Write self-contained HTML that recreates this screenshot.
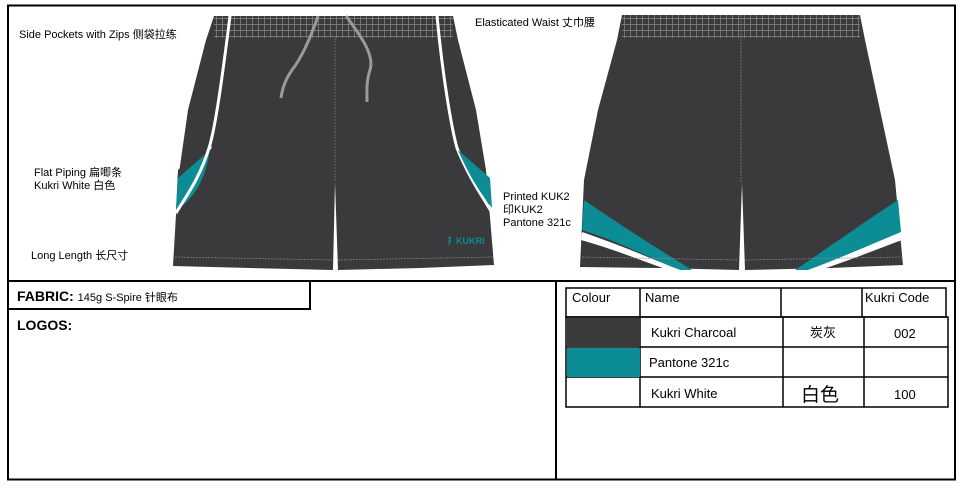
<!DOCTYPE html>
<html><head><meta charset="utf-8"><style>
body{margin:0;background:#fff;}
svg text{font-family:"Liberation Sans","Noto Sans CJK SC",sans-serif;}
</style></head><body>
<svg width="964" height="488" viewBox="0 0 964 488" xmlns="http://www.w3.org/2000/svg">
<defs>
<pattern id="grid" width="6" height="6" patternUnits="userSpaceOnUse">
<rect width="6" height="6" fill="#3a393b"/>
<path d="M0 0.5H6M0.5 0V6" stroke="#8a8a8c" stroke-width="0.7"/>
</pattern>
</defs>
<rect x="8" y="5.5" width="947" height="474" fill="none" stroke="#000" stroke-width="2"/>
<line x1="8" y1="281" x2="955" y2="281" stroke="#000" stroke-width="2"/>
<line x1="556" y1="281" x2="556" y2="479" stroke="#000" stroke-width="2"/>
<rect x="8" y="281" width="302" height="28" fill="none" stroke="#000" stroke-width="2"/>

<!-- front shorts -->
<path d="M214 16 L453 16 L458 40 L476 110 L486 170 L494 265 L420 268 L338 270 L335 182 L333 270 L250 268 L173 266 L178 180 L188 110 L206 40 Z" fill="#3a393b"/>
<rect x="214" y="16" width="239" height="22" fill="url(#grid)"/>
<path d="M229 16 C222 70 210 130 200 150 L178 170 L176 210 C190 190 205 170 215 145 Z" fill="#3a393b"/>
<path d="M207 145 L178 170 L177 212 C195 200 210 185 212 150 Z" fill="#3a393b"/>
<path d="M212 147 C195 175 185 190 177 215 L176 209 C190 180 205 160 209 145 Z" fill="#fff"/>
<path d="M210 150 L178 178 L176 210 C195 198 205 180 210 150 Z" fill="#0c8c95"/>
<path d="M230 16 C222 80 215 130 209 148 C200 178 185 198 176 213" fill="none" stroke="#fff" stroke-width="3"/>
<path d="M437 16 C443 80 452 130 457 148 C470 180 485 200 492 213" fill="none" stroke="#fff" stroke-width="3"/>
<path d="M458 150 C470 178 482 195 492 208 L490 178 Z" fill="#0c8c95"/>
<path d="M318 16 C310 40 300 60 292 70 C285 80 282 90 281 98" fill="none" stroke="#9a9a9c" stroke-width="3"/>
<path d="M346 16 C360 35 375 55 370 70 C366 82 367 92 367 102" fill="none" stroke="#9a9a9c" stroke-width="3"/>
<line x1="335" y1="38" x2="335" y2="182" stroke="#777" stroke-width="0.7" stroke-dasharray="2 1"/>
<path d="M175 257 L332 260 M338 260 L493 257" stroke="#888" stroke-width="0.7" stroke-dasharray="2 1" fill="none"/>
<text x="447" y="244" font-size="9" fill="#0c8c95" font-weight="bold">⺘KUKRI</text>

<!-- back shorts -->
<path d="M622 15 L860 15 L865 40 L880 110 L895 180 L903 265 L830 268 L745 270 L742 183 L739 270 L660 268 L580 267 L584 180 L598 110 L617 40 Z" fill="#3a393b"/>
<rect x="622" y="15" width="238" height="23" fill="url(#grid)"/>
<line x1="741" y1="15" x2="741" y2="183" stroke="#888" stroke-width="0.7" stroke-dasharray="2 1"/>
<path d="M584 200 C620 225 660 250 692 270 L680 270 C650 258 615 240 582 230 Z" fill="#0c8c95"/>
<path d="M582 232 C620 245 650 258 680 270 L668 270 C640 260 610 248 581 240 Z" fill="#fff"/>
<path d="M898 200 C860 225 825 250 795 270 L808 270 C840 258 870 245 901 232 Z" fill="#0c8c95"/>
<path d="M901 232 C870 245 840 258 808 270 L820 270 C845 262 875 250 902 240 Z" fill="#fff"/>
<path d="M582 257 L738 260 M745 260 L902 257" stroke="#888" stroke-width="0.7" stroke-dasharray="2 1" fill="none"/>

<!-- labels -->
<g font-size="11" fill="#000">
<text x="19" y="38">Side Pockets with Zips  侧袋拉练</text>
<text x="34" y="176">Flat Piping   扁唧条</text>
<text x="34" y="189">Kukri White  白色</text>
<text x="31" y="259">Long Length   长尺寸</text>
<text x="475" y="26">Elasticated Waist  丈巾腰</text>
<text x="503" y="200">Printed KUK2</text>
<text x="503" y="213">印KUK2</text>
<text x="503" y="226" font-family="Liberation Serif,serif">Pantone 321c</text>
</g>
<text x="17" y="301" font-size="14" font-weight="bold">FABRIC: <tspan font-size="11" font-weight="normal">145g S-Spire  针眼布</tspan></text>
<text x="17" y="330" font-size="14" font-weight="bold">LOGOS:</text>

<!-- table -->
<g fill="none" stroke="#000" stroke-width="1.5">
<rect x="566" y="288" width="380" height="29"/>
<line x1="640" y1="288" x2="640" y2="317"/>
<line x1="781" y1="288" x2="781" y2="317"/>
<line x1="862" y1="288" x2="862" y2="317"/>
<rect x="566" y="317" width="382" height="90"/>
<line x1="640" y1="317" x2="640" y2="407"/>
<line x1="783" y1="317" x2="783" y2="407"/>
<line x1="864" y1="317" x2="864" y2="407"/>
<line x1="566" y1="347" x2="948" y2="347"/>
<line x1="566" y1="377" x2="948" y2="377"/>
</g>
<rect x="567" y="318" width="73" height="29" fill="#3a393b"/>
<rect x="567" y="348" width="73" height="29" fill="#0c8c95"/>
<g font-size="13" fill="#000">
<text x="572" y="302">Colour</text>
<text x="645" y="302">Name</text>
<text x="865" y="302">Kukri Code</text>
<text x="651" y="337">Kukri Charcoal</text>
<text x="810" y="337">炭灰</text>
<text x="894" y="338">002</text>
<text x="649" y="367">Pantone 321c</text>
<text x="651" y="398">Kukri White</text>
<text x="801" y="401" font-size="19">白色</text>
<text x="894" y="399">100</text>
</g>
</svg>
</body></html>
